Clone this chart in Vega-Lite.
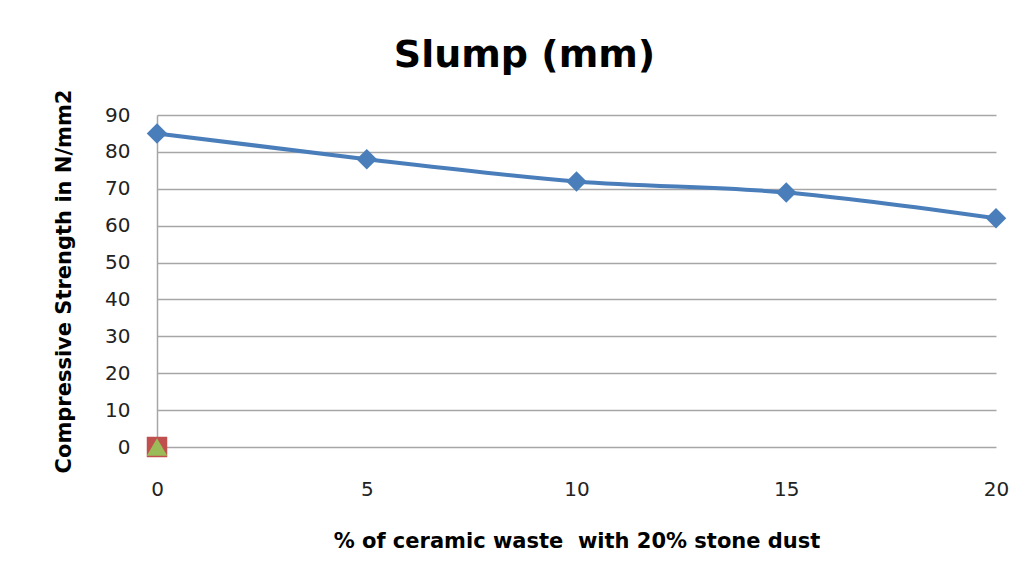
{
  "$schema": "https://vega.github.io/schema/vega-lite/v6.json",
  "autosize": "none",
  "width": 839,
  "height": 332,
  "padding": {"left": 157, "top": 115, "right": 35, "bottom": 136},
  "background": "white",
  "config": {
    "font": "DejaVu Sans",
    "view": {"stroke": null},
    "axis": {"labelFont": "DejaVu Sans", "titleFont": "DejaVu Sans"}
  },
  "title": {
    "text": "Slump (mm)",
    "fontSize": 38,
    "fontWeight": "bold",
    "font": "DejaVu Sans",
    "color": "#000000",
    "anchor": "middle",
    "frame": "group",
    "dx": -52,
    "offset": 14
  },
  "data": {
    "values": [
      {"x": 0, "y": 85, "series": "Slump"},
      {"x": 5, "y": 78, "series": "Slump"},
      {"x": 10, "y": 72, "series": "Slump"},
      {"x": 15, "y": 69, "series": "Slump"},
      {"x": 20, "y": 62, "series": "Slump"},
      {"x": 0, "y": 0, "series": "Series2"},
      {"x": 0, "y": 0, "series": "Series3"}
    ]
  },
  "encoding": {
    "x": {
      "field": "x",
      "type": "quantitative",
      "scale": {"domain": [0, 20], "nice": false, "zero": false},
      "axis": {
        "title": "% of ceramic waste\u00a0 with 20% stone dust",
        "values": [0, 5, 10, 15, 20],
        "grid": false,
        "ticks": false,
        "domain": false,
        "labelFlush": false,
        "labelFontSize": 20,
        "labelColor": "#222222",
        "labelPadding": 32,
        "titleFontSize": 21,
        "titleFontWeight": "bold",
        "titleColor": "#000000",
        "titlePadding": 31
      }
    },
    "y": {
      "field": "y",
      "type": "quantitative",
      "scale": {"domain": [0, 90], "nice": false},
      "axis": {
        "title": "Compressive Strength in N/mm2",
        "values": [0, 10, 20, 30, 40, 50, 60, 70, 80, 90],
        "grid": true,
        "gridColor": "#a6a6a6",
        "gridWidth": 1.5,
        "ticks": false,
        "domain": true,
        "domainColor": "#a6a6a6",
        "domainWidth": 1.5,
        "labelFontSize": 20,
        "labelColor": "#222222",
        "labelPadding": 27,
        "titleFontSize": 21,
        "titleFontWeight": "bold",
        "titleColor": "#000000",
        "titlePadding": 30
      }
    }
  },
  "layer": [
    {
      "transform": [{"filter": "datum.series === 'Slump'"}],
      "mark": {"type": "line", "color": "#4a7ebb", "strokeWidth": 4, "interpolate": "monotone"}
    },
    {
      "transform": [{"filter": "datum.series === 'Slump'"}],
      "mark": {"type": "point", "shape": "diamond", "filled": true, "size": 420, "color": "#4a7ebb", "opacity": 1}
    },
    {
      "transform": [{"filter": "datum.series === 'Series2'"}],
      "mark": {"type": "point", "shape": "square", "filled": true, "size": 420, "color": "#c0504d", "opacity": 1, "clip": false}
    },
    {
      "transform": [{"filter": "datum.series === 'Series3'"}],
      "mark": {"type": "point", "shape": "triangle-up", "filled": true, "size": 420, "color": "#9bbb59", "opacity": 1, "clip": false}
    }
  ]
}
